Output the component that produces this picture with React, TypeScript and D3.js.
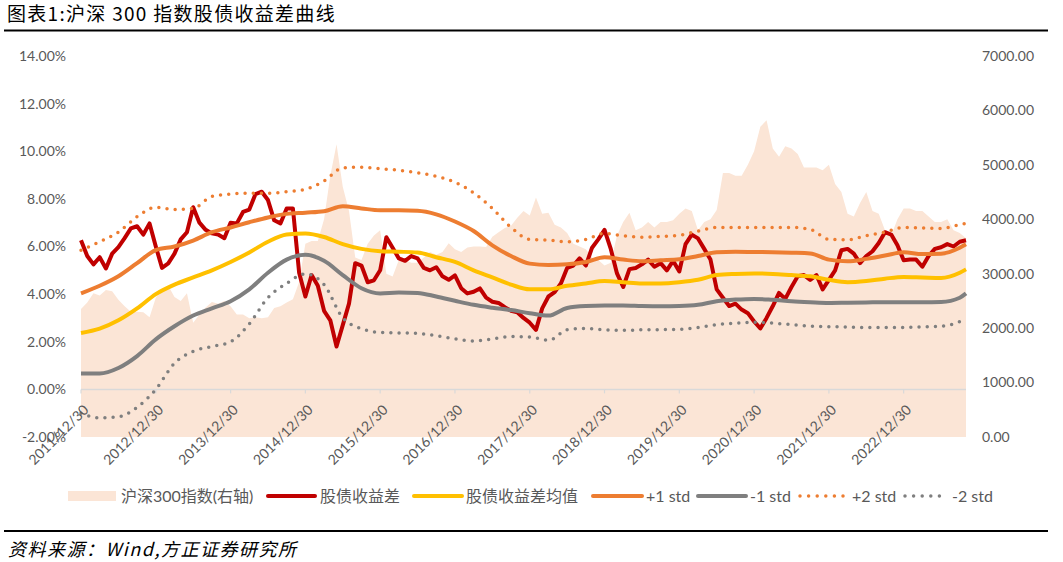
import React from "react";
import * as d3 from "d3";

// ---------- data ----------
const xTickLabels = [
  "2011/12/30", "2012/12/30", "2013/12/30", "2014/12/30", "2015/12/30", "2016/12/30",
  "2017/12/30", "2018/12/30", "2019/12/30", "2020/12/30", "2021/12/30", "2022/12/30",
];
const monthsPerTick = 12;

const seriesNames = ["沪深300指数(右轴)", "股债收益差", "股债收益差均值", "+1 std", "-1 std", "+2 std", "-2 std"];

// 沪深300 index, monthly (Dec 2011 .. Oct 2023)
const hs300 = [
  2350, 2470, 2640, 2600, 2700, 2680, 2520, 2400, 2300, 2300, 2290, 2200,
  2560, 2720, 2780, 2570, 2500, 2640, 2100, 2250, 2380, 2480, 2450, 2500,
  2400, 2250, 2250, 2180, 2200, 2180, 2200, 2370, 2400, 2470, 2530, 2850,
  3550, 3600, 3600, 4000, 4800, 5380, 4600, 4150, 3300, 3250, 3550, 3700,
  3800, 3000, 2950, 3250, 3250, 3200, 3200, 3300, 3400, 3350, 3400, 3560,
  3450, 3400, 3480, 3500, 3500, 3490, 3680, 3760, 3840, 3880, 4030, 4150,
  4070, 4400, 4100, 4120, 3900, 3850, 3750, 3550, 3500, 3450, 3300, 3250,
  3150, 3200, 3700, 3950, 4120, 3800, 3850, 3950, 3850, 3950, 3950, 3980,
  4100, 4200, 4150, 3800, 3950, 4000, 4170, 4850, 4850, 4800, 4800, 5000,
  5250, 5700, 5820, 5300, 5150, 5340, 5300, 5200, 4950, 4950, 4950, 4900,
  5000, 4650, 4500, 4100, 4050, 4300, 4500, 4150, 4100, 3800, 3700, 4000,
  4200, 4200, 4150, 4150, 4050, 3950, 3950, 4000, 3800, 3750, 3650,
];

// 股债收益差 (%), monthly
const spread = [
  6.26, 5.6, 5.25, 5.55, 5.08, 5.7, 5.97, 6.35, 6.76, 6.85, 6.5, 6.97,
  6.0, 5.1, 5.29, 5.7, 6.3, 6.6, 7.65, 7.0, 6.7, 6.55, 6.5, 6.35,
  7.0, 6.97, 7.45, 7.55, 8.2, 8.3, 7.95, 7.1, 6.97, 7.6, 7.6, 4.9,
  3.9, 4.8, 4.35, 3.3, 2.9, 1.8, 2.7, 3.6, 5.3, 5.2, 4.5, 4.58,
  5.0, 6.39, 5.95, 5.5, 5.4, 5.6, 5.5, 5.1, 5.0, 5.13, 4.75, 4.6,
  4.79, 4.25, 4.03, 4.1, 4.24, 3.85, 3.68, 3.63, 3.45, 3.3, 3.24, 3.0,
  2.8, 2.5, 3.4, 3.9, 4.08, 4.45, 5.1, 5.2, 5.5, 5.2, 5.95, 6.3,
  6.7, 5.9, 4.87, 4.3, 5.05, 5.1, 5.25, 5.45, 5.15, 5.3, 5.0, 5.4,
  4.95, 6.1, 6.5, 6.34, 5.9, 5.45, 4.2, 3.85, 3.5, 3.6, 3.35, 3.2,
  2.85, 2.56, 3.0, 3.5, 4.05, 3.8, 4.3, 4.75, 4.8, 4.6, 4.8, 4.2,
  4.6, 5.0, 5.84, 5.9, 5.7, 5.3, 5.6, 5.8, 6.15, 6.6, 6.5, 6.05,
  5.42, 5.45, 5.45, 5.15, 5.6, 5.9, 5.97, 6.1, 6.0, 6.2, 6.26,
];

// smooth series, quarterly (every 3rd month) plus the last month
const meanLine = [
  2.37, 2.55, 2.9, 3.4, 4.0, 4.4, 4.7, 5.0, 5.35, 5.75, 6.2, 6.5,
  6.55, 6.4, 6.1, 5.9, 5.8, 5.78, 5.75, 5.55, 5.35, 5.0, 4.7, 4.4,
  4.2, 4.2, 4.35, 4.45, 4.55, 4.5, 4.45, 4.45, 4.5, 4.6, 4.8, 4.85,
  4.87, 4.85, 4.8, 4.75, 4.6, 4.5, 4.55, 4.65, 4.72, 4.7, 4.68, 4.9, 5.04,
];
const plus1 = [
  4.03, 4.35, 4.75, 5.3, 5.85, 6.0, 6.25, 6.6, 6.8, 7.02, 7.22, 7.37,
  7.42, 7.48, 7.69, 7.6, 7.52, 7.52, 7.5, 7.35, 7.05, 6.65, 6.05, 5.6,
  5.28, 5.22, 5.25, 5.35, 5.55, 5.45, 5.38, 5.42, 5.46, 5.6, 5.76, 5.78,
  5.77, 5.76, 5.74, 5.71, 5.45, 5.38, 5.48, 5.62, 5.76, 5.68, 5.7, 5.95, 6.09,
];
const minus1 = [
  0.67, 0.67, 0.9, 1.4, 2.1, 2.65, 3.1, 3.4, 3.7, 4.2, 4.9, 5.45,
  5.65, 5.4, 4.8, 4.25, 4.03, 4.07, 4.05, 3.9, 3.72, 3.55, 3.43, 3.33,
  3.2, 3.1, 3.42, 3.5, 3.52, 3.52, 3.5, 3.49, 3.5, 3.55, 3.7, 3.77,
  3.8, 3.76, 3.7, 3.66, 3.63, 3.64, 3.65, 3.66, 3.66, 3.66, 3.67, 3.85, 4.03,
];
const plus2 = [
  5.84, 6.2, 6.6, 7.25, 7.65, 7.55, 7.6, 8.1, 8.2, 8.24, 8.24, 8.3,
  8.4, 8.75, 9.3, 9.33, 9.27, 9.2, 9.1, 8.95, 8.7, 8.25, 7.6, 6.8,
  6.3, 6.27, 6.2, 6.3, 6.55, 6.45, 6.39, 6.42, 6.47, 6.65, 6.8, 6.8,
  6.8, 6.8, 6.8, 6.72, 6.3, 6.28, 6.45, 6.6, 6.8, 6.78, 6.76, 6.92, 6.97,
];
const minus2 = [
  -1.0, -1.2, -1.15, -0.75, 0.0, 1.1, 1.6, 1.8, 2.0, 2.75, 3.85, 4.45,
  4.85, 4.4, 3.0, 2.55, 2.39, 2.37, 2.35, 2.25, 2.12, 2.03, 2.12, 2.22,
  2.2, 2.06, 2.5, 2.56, 2.5, 2.48, 2.5, 2.51, 2.52, 2.6, 2.72, 2.78,
  2.82, 2.78, 2.72, 2.66, 2.63, 2.62, 2.6, 2.6, 2.6, 2.62, 2.65, 2.85, 2.98,
];

const leftTicks = [-2, 0, 2, 4, 6, 8, 10, 12, 14];
const rightTicks = [0, 1000, 2000, 3000, 4000, 5000, 6000, 7000];

// ---------- styles ----------
const C_AREA = "#FBE5D6";
const C_RED = "#C00000";
const C_YEL = "#FFC000";
const C_ORA = "#ED7D31";
const C_GRY = "#7F7F7F";
const TXT = "#595959";
const LAT = "Lato, 'Noto Sans CJK SC', sans-serif";
const CJK = "'Noto Sans CJK SC', sans-serif";

export default function App() {
  const W = 1063;
  const H = 562;
  const n = hs300.length;
  const x = d3.scaleLinear().domain([0, n - 1]).range([81, 966]);
  const yL = d3.scaleLinear().domain([-2, 14]).range([437, 56]);
  const yR = d3.scaleLinear().domain([0, 7000]).range([437, 56]);
  const smoothIdx = d3.range(0, n - 1, 3).concat([n - 1]);

  const area = d3
    .area<number>()
    .x((_, i) => x(i))
    .y0(yR(0))
    .y1((d) => yR(d));
  const spreadLine = d3
    .line<number>()
    .x((_, i) => x(i))
    .y((d) => yL(d));
  const smoothLine = d3
    .line<number>()
    .x((_, i) => x(smoothIdx[i]))
    .y((d) => yL(d))
    .curve(d3.curveMonotoneX);

  const tickIdx = xTickLabels.map((_, i) => i * monthsPerTick);
  const y0 = yL(0);

  const legend = [
    { kind: "area", color: C_AREA, x0: 68, x1: 116, tx: 121 },
    { kind: "line", color: C_RED, x0: 268, x1: 315, tx: 320 },
    { kind: "line", color: C_YEL, x0: 414, x1: 462, tx: 466 },
    { kind: "line", color: C_ORA, x0: 593, x1: 642, tx: 646 },
    { kind: "line", color: C_GRY, x0: 698, x1: 746, tx: 750 },
    { kind: "dot", color: C_ORA, x0: 800, x1: 845, tx: 852 },
    { kind: "dot", color: C_GRY, x0: 905, x1: 948, tx: 952 },
  ];
  const ly = 496;

  return (
    <svg
      width={W}
      height={H}
      style={{ position: "absolute", left: 0, top: 0, background: "#fff" }}
    >
      <rect x={0} y={0} width={W} height={H} fill="#fff" />
      {/* title */}
      <text x={7} y={21} fontFamily={CJK} fontSize={19} fontWeight={400} letterSpacing={1.3} fill="#000">
        图表1:沪深 300 指数股债收益差曲线
      </text>
      <line x1={4} x2={1048} y1={30.5} y2={30.5} stroke="#000" strokeWidth={2} />

      {/* area */}
      <path d={area(hs300) || ""} fill={C_AREA} />

      {/* zero line + ticks */}
      <line x1={x(0)} x2={x(n - 1)} y1={y0} y2={y0} stroke="#D9D9D9" strokeWidth={1.5} />
      {tickIdx.map((t) => (
        <line key={t} x1={x(t)} x2={x(t)} y1={y0} y2={y0 + 4} stroke="#D9D9D9" strokeWidth={1.2} />
      ))}

      {/* lines */}
      <path d={spreadLine(spread) || ""} fill="none" stroke={C_RED} strokeWidth={4} strokeLinejoin="round" />
      <path d={smoothLine(meanLine) || ""} fill="none" stroke={C_YEL} strokeWidth={4} />
      <path d={smoothLine(plus1) || ""} fill="none" stroke={C_ORA} strokeWidth={4} />
      <path d={smoothLine(minus1) || ""} fill="none" stroke={C_GRY} strokeWidth={4} />
      <path
        d={smoothLine(plus2) || ""}
        fill="none"
        stroke={C_ORA}
        strokeWidth={3.5}
        strokeDasharray="0 8.2"
        strokeLinecap="round"
      />
      <path
        d={smoothLine(minus2) || ""}
        fill="none"
        stroke={C_GRY}
        strokeWidth={3.5}
        strokeDasharray="0 8.2"
        strokeLinecap="round"
      />

      {/* left axis */}
      {leftTicks.map((v) => (
        <text
          key={"l" + v}
          x={66}
          y={yL(v)}
          dy="0.35em"
          textAnchor="end"
          fontFamily={LAT}
          fontSize={14}
          fill={TXT}
        >
          {v.toFixed(2) + "%"}
        </text>
      ))}
      {/* right axis */}
      {rightTicks.map((v) => (
        <text
          key={"r" + v}
          x={982}
          y={yR(v)}
          dy="0.35em"
          textAnchor="start"
          fontFamily={LAT}
          fontSize={14}
          fill={TXT}
        >
          {v.toFixed(2)}
        </text>
      ))}
      {/* x labels */}
      {tickIdx.map((t, i) => (
        <text
          key={"x" + t}
          transform={`translate(${x(t) + 5},${y0 + 18}) rotate(-45)`}
          textAnchor="end"
          dy="0.35em"
          fontFamily={LAT}
          fontSize={14}
          fill={TXT}
        >
          {xTickLabels[i]}
        </text>
      ))}

      {/* legend */}
      {legend.map((l, i) => (
        <g key={"lg" + i}>
          {l.kind === "area" && (
            <rect x={l.x0} y={ly - 5} width={l.x1 - l.x0} height={10} fill={l.color} />
          )}
          {l.kind === "line" && (
            <line
              x1={l.x0}
              x2={l.x1}
              y1={ly}
              y2={ly}
              stroke={l.color}
              strokeWidth={4}
              strokeLinecap="round"
            />
          )}
          {l.kind === "dot" && (
            <line
              x1={l.x0}
              x2={l.x1}
              y1={ly}
              y2={ly}
              stroke={l.color}
              strokeWidth={3.5}
              strokeDasharray="0 8.6"
              strokeLinecap="round"
            />
          )}
          <text x={l.tx} y={ly} dy="0.35em" fontFamily={LAT} fontSize={16} fill={TXT}>
            {seriesNames[i]}
          </text>
        </g>
      ))}

      {/* footer */}
      <line x1={4} x2={1048} y1={531} y2={531} stroke="#000" strokeWidth={2} />
      <text x={8} y={556} fontFamily={CJK} fontSize={18} fontStyle="italic" letterSpacing={1.5} fill="#000">
        资料来源：Wind,方正证券研究所
      </text>
    </svg>
  );
}
